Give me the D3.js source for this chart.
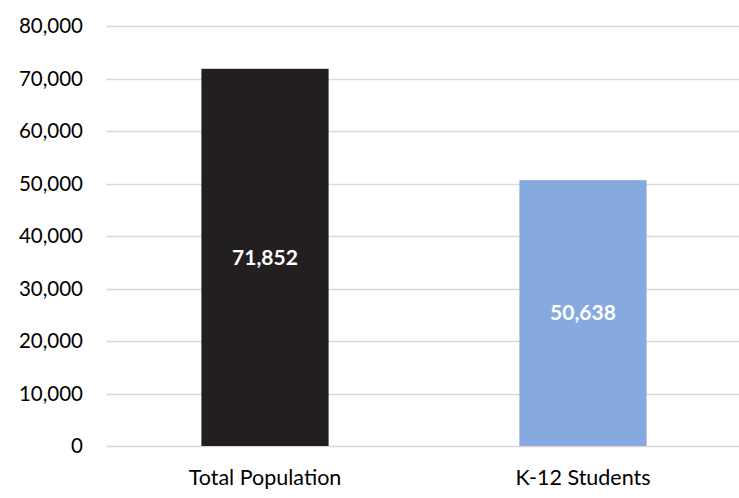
<!DOCTYPE html>
<html>
<head>
<meta charset="utf-8">
<script src="https://cdn.jsdelivr.net/npm/d3@7"></script>
<style>
  body { margin: 0; background: #fff; }
  text { font-family: Lato, "Open Sans", sans-serif; }
</style>
</head>
<body>
<div id="chart"></div>
<script>
// chart data
var categories = ['Total Population', 'K-12 Students'];
var values = [71852, 50638];
var colors = ['#231f20', '#86aae0'];
var yTicks = [0, 10000, 20000, 30000, 40000, 50000, 60000, 70000, 80000];

var width = 739, height = 498;
var margin = {top: 26, right: -3, bottom: 52, left: 106};

var svg = d3.select('#chart').append('svg')
    .attr('width', width)
    .attr('height', height);

var x = d3.scaleBand()
    .domain(categories)
    .range([margin.left, width - margin.right])
    .paddingInner(0.6)
    .paddingOuter(0.3);

var y = d3.scaleLinear()
    .domain([0, 80000])
    .range([height - margin.bottom, margin.top]);

var fmt = d3.format(',');

// gridlines
svg.append('g')
  .selectAll('line')
  .data(yTicks)
  .enter().append('line')
    .attr('x1', margin.left)
    .attr('x2', width)
    .attr('y1', function(d) { return Math.round(y(d)) + 0.5; })
    .attr('y2', function(d) { return Math.round(y(d)) + 0.5; })
    .attr('stroke', '#d9d9d9')
    .attr('stroke-width', 1.5);

// y tick labels
svg.append('g')
  .selectAll('text')
  .data(yTicks)
  .enter().append('text')
    .attr('x', 83)
    .attr('y', function(d) { return y(d); })
    .attr('dy', '0.35em')
    .attr('text-anchor', 'end')
    .attr('font-size', 20.5)
    .attr('fill', '#000')
    .text(function(d) { return fmt(d); });

// bars
svg.append('g')
  .selectAll('rect')
  .data(values)
  .enter().append('rect')
    .attr('x', function(d, i) { return x(categories[i]); })
    .attr('y', function(d) { return y(d); })
    .attr('width', x.bandwidth())
    .attr('height', function(d) { return y(0) - y(d); })
    .attr('fill', function(d, i) { return colors[i]; });

// value labels
svg.append('g')
  .selectAll('text')
  .data(values)
  .enter().append('text')
    .attr('x', function(d, i) { return x(categories[i]) + x.bandwidth() / 2; })
    .attr('y', function(d) { return (y(d) + y(0)) / 2; })
    .attr('dy', '0.35em')
    .attr('text-anchor', 'middle')
    .attr('font-size', 21)
    .attr('font-weight', 'bold')
    .attr('fill', '#fff')
    .text(function(d) { return fmt(d); });

// category labels
svg.append('g')
  .selectAll('text')
  .data(categories)
  .enter().append('text')
    .attr('x', function(d) { return x(d) + x.bandwidth() / 2; })
    .attr('y', 477)
    .attr('dy', '0.35em')
    .attr('text-anchor', 'middle')
    .attr('font-size', 21.5)
    .attr('fill', '#000')
    .text(function(d) { return d; });
</script>
</body>
</html>
